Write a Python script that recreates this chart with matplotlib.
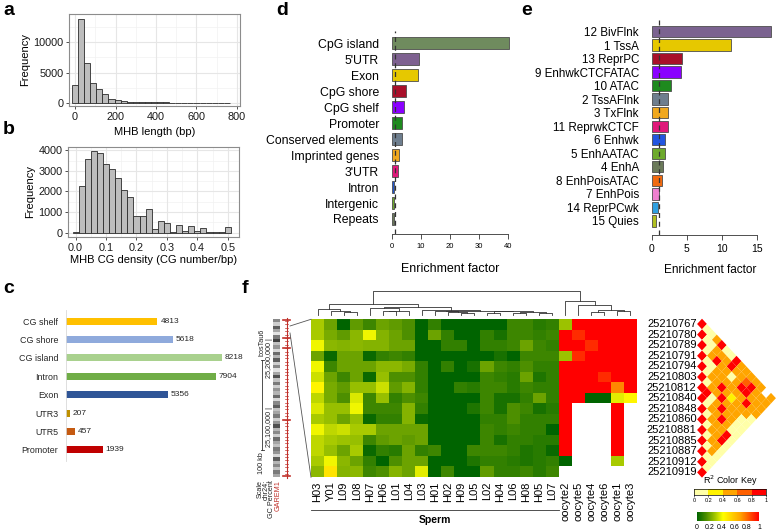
import numpy as np
import matplotlib
matplotlib.use('Agg')
import matplotlib.pyplot as plt
from matplotlib.colors import LinearSegmentedColormap, ListedColormap
from matplotlib.patches import Polygon

plt.rcParams['font.family'] = ['Liberation Sans', 'DejaVu Sans']

# ---------------- data ----------------
# a: MHB length histogram (binwidth 30)
len_bins = [0, 30, 60, 90, 120, 150, 180, 210, 240, 270, 300, 330, 360, 390, 420,
            450, 480, 510, 540, 570, 600, 630, 660, 690, 720, 750]
len_counts = [2890, 13900, 6650, 3330, 2220, 1500, 670, 390, 280, 190, 130, 100, 80, 60,
              45, 35, 28, 22, 18, 14, 11, 9, 7, 5, 4, 3]
# b: CG density histogram (binwidth 0.02)
dens_bins = [0.00, 0.02, 0.04, 0.06, 0.08, 0.10, 0.12, 0.14, 0.16, 0.18, 0.20, 0.22, 0.24,
             0.26, 0.28, 0.30, 0.32, 0.34, 0.36, 0.38, 0.40, 0.42, 0.44, 0.46, 0.48, 0.50]
dens_counts = [30, 2270, 3600, 3950, 3890, 3350, 3090, 2660, 2060, 1730, 810, 810, 1170,
               160, 550, 470, 20, 370, 80, 320, 60, 230, 10, 10, 10, 290]
# c: counts per genomic feature
c_cats = ['CG shelf', 'CG shore', 'CG island', 'Intron', 'Exon', 'UTR3', 'UTR5', 'Promoter']
c_vals = [4813, 5618, 8218, 7904, 5356, 207, 457, 1939]
c_colors = ['#FFC000', '#8FAADC', '#A9D18E', '#70AD47', '#2F5597', '#BF9000', '#C55A11', '#C00000']
# d: enrichment in genomic features
d_cats = ['CpG island', "5'UTR", 'Exon', 'CpG shore', 'CpG shelf', 'Promoter',
          'Conserved elements', 'Imprinted genes', "3'UTR", 'Intron', 'Intergenic', 'Repeats']
d_vals = [40.3, 9.3, 9.2, 4.9, 4.25, 3.6, 3.5, 2.4, 2.1, 0.9, 0.9, 0.8]
d_colors = ['#6F8B5E', '#7E6190', '#E6C800', '#A8102A', '#8A00FF', '#1E8A1E', '#6E7E8E',
            '#F0A81E', '#E0187A', '#1F55D0', '#6DAA2C', '#6B7A5A']
# e: enrichment in chromatin states
e_cats = ['12 BivFlnk', '1 TssA', '13 ReprPC', '9 EnhwkCTCFATAC', '10 ATAC', '2 TssAFlnk',
          '3 TxFlnk', '11 ReprwkCTCF', '6 Enhwk', '5 EnhAATAC', '4 EnhA', '8 EnhPoisATAC',
          '7 EnhPois', '14 ReprPCwk', '15 Quies']
e_vals = [16.9, 11.3, 4.35, 4.1, 2.75, 2.37, 2.37, 2.27, 1.94, 1.94, 1.56, 1.42, 1.09, 0.9, 0.57]
e_colors = ['#7B6390', '#E6C800', '#A8102A', '#8A00FF', '#1E8A1E', '#6E7E8E', '#F0A81E',
            '#E0187A', '#2255E0', '#6DAA2C', '#6B7A5A', '#F06A10', '#F080D0', '#30A0E0', '#B0C020']
# f: methylation heatmap (15 CpG rows per sample)
samples = ['H03', 'Y01', 'L09', 'L08', 'H07', 'H06', 'L01', 'L04', 'L03', 'H01', 'H02', 'H09',
           'L05', 'L02', 'H04', 'L06', 'H08', 'H05', 'L07',
           'oocyte2', 'oocyte5', 'oocyte4', 'oocyte6', 'oocyte1', 'oocyte3']
nan = float('nan')
meth_by_sample = [
    [0.30, 0.30, 0.40, 0.20, 0.40, 0.35, 0.45, 0.33, 0.37, 0.30, 0.40, 0.33, 0.33, 0.30, 0.25],
    [0.20, 0.22, 0.25, 0.02, 0.12, 0.20, 0.22, 0.22, 0.27, 0.27, 0.33, 0.30, 0.27, 0.40, 0.50],
    [0.00, 0.18, 0.24, 0.20, 0.20, 0.12, 0.18, 0.15, 0.27, 0.20, 0.35, 0.28, 0.20, 0.25, 0.24],
    [0.18, 0.25, 0.25, 0.20, 0.20, 0.20, 0.27, 0.37, 0.40, 0.27, 0.30, 0.27, 0.30, 0.20, 0.25],
    [0.12, 0.40, 0.24, 0.02, 0.20, 0.02, 0.27, 0.12, 0.12, 0.02, 0.30, 0.12, 0.02, 0.10, 0.12],
    [0.20, 0.24, 0.24, 0.10, 0.25, 0.27, 0.35, 0.27, 0.12, 0.10, 0.20, 0.18, 0.10, 0.00, 0.15],
    [0.18, 0.20, 0.20, 0.12, 0.25, 0.15, 0.18, 0.10, 0.12, 0.10, 0.20, 0.20, 0.08, 0.15, 0.24],
    [0.15, 0.15, 0.20, 0.10, 0.22, 0.15, 0.24, 0.15, 0.24, 0.24, 0.20, 0.18, 0.20, 0.20, 0.20],
    [0.00, 0.00, 0.00, 0.00, 0.10, 0.10, 0.10, 0.12, 0.10, 0.02, 0.20, 0.20, 0.10, 0.20, 0.38],
    [0.10, 0.20, 0.00, 0.00, 0.00, 0.00, 0.00, 0.00, 0.00, 0.00, 0.00, 0.00, 0.12, 0.00, 0.00],
    [0.00, 0.10, 0.10, 0.00, 0.10, 0.00, 0.00, 0.00, 0.00, 0.00, 0.00, 0.00, 0.00, 0.00, 0.12],
    [0.00, 0.00, 0.10, 0.00, 0.00, 0.00, 0.10, 0.00, 0.00, 0.00, 0.00, 0.00, 0.00, 0.00, 0.00],
    [0.00, 0.00, 0.00, 0.00, 0.05, 0.00, 0.08, 0.00, 0.06, 0.00, 0.00, 0.00, 0.12, 0.06, 0.00],
    [0.00, 0.10, 0.10, 0.00, 0.20, 0.12, 0.12, 0.12, 0.12, 0.10, 0.12, 0.12, 0.12, 0.10, 0.18],
    [0.00, 0.05, 0.10, 0.05, 0.12, 0.10, 0.12, 0.05, 0.05, 0.10, 0.10, 0.05, 0.12, 0.10, 0.10],
    [0.12, 0.12, 0.12, 0.00, 0.10, 0.08, 0.08, 0.05, 0.15, 0.15, 0.12, 0.10, 0.10, 0.08, 0.10],
    [0.12, 0.12, 0.20, 0.12, 0.15, 0.20, 0.12, 0.10, 0.12, 0.10, 0.10, 0.10, 0.06, 0.06, 0.12],
    [0.08, 0.10, 0.12, 0.12, 0.10, 0.06, 0.10, 0.20, 0.05, 0.10, 0.10, 0.08, 0.08, 0.08, 0.08],
    [0.10, 0.12, 0.10, 0.12, 0.10, 0.10, 0.10, 0.10, 0.08, 0.10, 0.00, 0.08, 0.02, 0.10, 0.12],
    [0.28, 1.00, 1.00, 0.28, 1.00, 1.00, 1.00, 1.00, 1.00, 1.00, 1.00, 1.00, 1.00, 0.00, nan],
    [1.00, 0.92, 1.00, 0.92, 1.00, 1.00, 1.00, 1.00, nan, nan, nan, nan, nan, nan, nan],
    [1.00, 1.00, 0.92, 1.00, 1.00, 1.00, 1.00, 0.00, nan, nan, nan, nan, nan, nan, nan],
    [1.00, 1.00, 1.00, 1.00, 1.00, 0.92, 1.00, 0.00, nan, nan, nan, nan, nan, nan, nan],
    [1.00, 1.00, 1.00, 1.00, 1.00, 1.00, 0.75, 0.38, 1.00, 1.00, 1.00, 1.00, 1.00, 0.30, nan],
    [1.00, 1.00, 1.00, 1.00, 1.00, 1.00, 1.00, 0.45, nan, nan, nan, nan, nan, nan, nan],
]
# dendrogram over samples: (left, right, height), leaves are sample indices
dend_tree = (
    ((0, (1, (2, 3, 3.0), 4.5), 6.3),
     ((4, ((5, 6, 4.0), 7, 5.0), 7.5),
      (8, ((9, (10, (11, 12, 2.0), 3.0), 4.0),
           ((13, 14, 2.5), ((15, 16, 2.0), (17, 18, 2.5), 3.5), 4.5), 5.0), 6.0), 9.0), 12.0),
    (19, (20, ((21, 22, 3.0), (23, 24, 4.0), 6.0), 11.0), 16.0),
    27.0)
# LD (r^2) between SNPs: row i holds r^2 with SNPs i+1 .. last (None = not shown)
snps = ['25210767', '25210780', '25210789', '25210791', '25210794', '25210803', '25210812',
        '25210840', '25210848', '25210860', '25210881', '25210885', '25210887', '25210912',
        '25210919']
ld_r2 = [
    [0.1, 0.1, 0.5, 0.9, 0.1, 0.1, 0.9, 0.5, 0.5, 0.5, 0.5, 0.5, None, 0.5],
    [0.1, 0.1, 0.5, 0.5, 0.5, 0.9, 0.5, 0.5, 0.7, 0.9, 0.5, 0.5, 0.5],
    [0.1, 0.5, 0.9, 0.5, 0.5, 0.1, 0.5, 0.9, 0.9, 0.5, 0.5, 0.5],
    [0.1, 0.1, 0.5, 0.5, 0.5, 0.5, 0.5, 0.5, 0.9, 0.5, 0.5],
    [0.1, 0.5, 0.5, 0.9, 0.5, 0.3, 0.5, 0.5, 0.5, 0.1],
    [0.1, 0.5, 0.5, 0.9, 0.5, 0.5, 0.5, 0.1, 0.1],
    [0.9, 0.1, 0.5, 0.9, 0.5, 0.5, 0.1, 0.1],
    [0.1, 0.5, 0.5, 0.9, 0.5, 0.1, 0.1],
    [0.1, 0.5, 0.5, 0.5, 0.9, 0.1],
    [0.1, 0.5, 0.5, 0.9, 0.1],
    [0.1, 0.5, 0.5, 0.1],
    [0.1, 0.5, 0.1],
    [0.1, 0.1],
    [0.1],
    [],
]
ld_colors = ['#FFFFA8', '#FFF200', '#FFA500', '#FF6000', '#FF0000']
gc_levels = [0.55, 0.30, 0.70, 0.45, 0.20, 0.60, 0.80, 0.35, 0.50, 0.25, 0.65, 0.40, 0.70,
             0.30, 0.55, 0.20, 0.45, 0.75, 0.35, 0.60, 0.30, 0.50, 0.40, 0.65, 0.25, 0.55,
             0.70, 0.35, 0.45, 0.60, 0.30, 0.50, 0.75, 0.40, 0.55, 0.30, 0.65, 0.45, 0.35,
             0.60, 0.50, 0.25, 0.70, 0.40, 0.55, 0.35, 0.60, 0.45]

# ---------------- layout helpers ----------------
W, H = 778, 531
fig = plt.figure(figsize=(W / 100, H / 100), dpi=100)


def add_ax(l, t, r, b, **kw):
    return fig.add_axes([l / W, 1 - b / H, (r - l) / W, (b - t) / H], **kw)


def ftext(x, y, s, **kw):
    fig.text(x / W, 1 - y / H, s, **kw)


def gg_hist(ax, bins, counts, width, xlim, ylim, xticks, yticks, xminor, yminor):
    ax.set_facecolor('white')
    for v in xminor:
        ax.axvline(v, color='#F2F2F2', lw=0.5, zorder=0)
    for v in yminor:
        ax.axhline(v, color='#F2F2F2', lw=0.5, zorder=0)
    for v in xticks:
        ax.axvline(v, color='#E6E6E6', lw=0.8, zorder=0)
    for v in yticks:
        ax.axhline(v, color='#E6E6E6', lw=0.8, zorder=0)
    ax.bar(bins, counts, width=width, color='#BDBDBD', edgecolor='#2B2B2B', linewidth=0.6, zorder=2)
    ax.set_xlim(*xlim)
    ax.set_ylim(*ylim)
    ax.set_xticks(xticks)
    ax.set_yticks(yticks)
    for s in ax.spines.values():
        s.set_color('#8C8C8C')
        s.set_linewidth(0.8)
    ax.tick_params(length=2.5, width=0.6, color='#333333', labelsize=7.8, pad=1.5,
                   labelcolor='#1A1A1A')


# ---------------- panel a ----------------
axa = add_ax(69, 14, 240, 106)
gg_hist(axa, len_bins, len_counts, 30, (-30, 815), (-550, 14700),
        [0, 200, 400, 600, 800], [0, 5000, 10000], [100, 300, 500, 700], [2500, 7500, 12500])
axa.set_ylabel('Frequency', fontsize=8, labelpad=2)
axa.set_xlabel('MHB length (bp)', fontsize=8, labelpad=4)

# ---------------- panel b ----------------
axb = add_ax(68, 147, 239, 237)
gg_hist(axb, dens_bins, dens_counts, 0.02, (-0.025, 0.537), (-214, 4165),
        [0.0, 0.1, 0.2, 0.3, 0.4, 0.5], [0, 1000, 2000, 3000, 4000],
        [0.05, 0.15, 0.25, 0.35, 0.45], [500, 1500, 2500, 3500])
axb.set_xticklabels(['0.0', '0.1', '0.2', '0.3', '0.4', '0.5'])
axb.set_ylabel('Frequency', fontsize=8, labelpad=2)
axb.set_xlabel('MHB CG density (CG number/bp)', fontsize=8, labelpad=2)

# ---------------- panel c ----------------
axc = add_ax(66, 310, 240, 461)
yc = np.arange(len(c_cats))
axc.barh(yc, c_vals, height=0.38, color=c_colors)
axc.set_ylim(len(c_cats) - 0.4, -0.6)
axc.set_xlim(0, 9170)
for yi, v in zip(yc, c_vals):
    axc.text(v + 160, yi, str(v), va='center', ha='left', fontsize=6, color='#262626')
axc.set_yticks(yc, c_cats, fontsize=6.4)
axc.set_xticks([])
axc.tick_params(axis='y', length=0, pad=5.5, labelcolor='#262626')
for k in ['top', 'right', 'bottom']:
    axc.spines[k].set_visible(False)
axc.spines['left'].set_color('#D9D9D9')
axc.spines['left'].set_linewidth(0.6)


# ---------------- panels d, e ----------------
def enrich(ax, cats, vals, colors, xlim, ylim, bounds, xticks, ylab_fs, xtick_fs, h):
    y = np.arange(len(cats))
    ax.barh(y, vals, height=h, color=colors, edgecolor='#4D4D4D', linewidth=0.6, zorder=2)
    ax.axvline(1, color='#333333', lw=0.9, ls=(0, (4, 3)), zorder=3)
    ax.set_xlim(*xlim)
    ax.set_ylim(*ylim)
    ax.set_yticks(y, cats, fontsize=ylab_fs)
    ax.set_xticks(xticks)
    ax.tick_params(axis='y', length=0, pad=6.5)
    ax.tick_params(axis='x', length=3.6, width=0.6, labelsize=xtick_fs, pad=3, color='#333333')
    for k in ['top', 'right', 'left']:
        ax.spines[k].set_visible(False)
    ax.spines['bottom'].set_bounds(*bounds)
    ax.spines['bottom'].set_color('#333333')
    ax.spines['bottom'].set_linewidth(0.6)


axd = add_ax(388, 31, 512, 234)
enrich(axd, d_cats, d_vals, d_colors, (-1.28, 41.5), (11.94, -0.77), (0, 40),
       [0, 10, 20, 30, 40], 8.8, 5.5, 0.75)
axd.set_xlabel('Enrichment factor', fontsize=9, labelpad=9)

axe = add_ax(648, 17, 772, 235)
enrich(axe, e_cats, e_vals, e_colors, (-0.53, 17.09), (15.04, -1.07), (0, 15),
       [0, 5, 10, 15], 8.4, 7.5, 0.84)
axe.set_xlabel('Enrichment factor', fontsize=8.5, labelpad=7)

# ---------------- panel f: heatmap ----------------
meth_cmap = LinearSegmentedColormap.from_list(
    'meth', [(0, '#006400'), (0.15, '#4E9000'), (0.3, '#AACB00'), (0.42, '#FFFF00'),
             (0.7, '#FFA500'), (1, '#FF0000')])
meth_cmap.set_bad('white')
axh = add_ax(311, 319.3, 637, 477.3)
M = np.ma.masked_invalid(np.array(meth_by_sample, dtype=float).T)
n_rows, n_cols = M.shape
axh.imshow(M, cmap=meth_cmap, vmin=0, vmax=1, aspect='auto', interpolation='nearest')
axh.set_xticks(range(n_cols), samples, rotation=90, fontsize=8)
axh.set_yticks([])
axh.tick_params(length=0, pad=3)
for s in axh.spines.values():
    s.set_visible(False)
n_sperm = 19
axh.plot([-0.5, n_sperm - 0.5], [17.6, 17.6], color='#333333', lw=0.6, clip_on=False)
axh.text((n_sperm - 1) / 2, 18.55, 'Sperm', ha='center', va='center', fontsize=7.5,
         fontweight='bold')
axh.set_xlim(-0.5, n_cols - 0.5)
axh.set_ylim(n_rows - 0.5, -0.5)

# dendrogram
axdn = add_ax(311, 289, 637, 317)
axdn.axis('off')


def draw_dend(node):
    if isinstance(node, int):
        return float(node), 0.0
    l, r, h = node
    xl, hl = draw_dend(l)
    xr, hr = draw_dend(r)
    axdn.plot([xl, xl, xr, xr], [hl, h, h, hr], color='#333333', lw=0.6)
    return (xl + xr) / 2, h


draw_dend(dend_tree)
axdn.set_xlim(-0.5, n_cols - 0.5)
axdn.set_ylim(-2.25, 29.25)

# genome browser track (left of heatmap)
axgc = add_ax(273, 319, 280, 477)
axgc.imshow(np.array(gc_levels)[:, None], cmap='Greys', vmin=0, vmax=1, aspect='auto',
            interpolation='nearest')
axgc.axis('off')

ov = add_ax(0, 0, W, H)
ov.axis('off')
ov.patch.set_alpha(0)
ov.plot([287, 287], [318, 478], color='#C0302A', lw=0.8)
for yy in np.arange(321, 477, 3.4):
    ov.plot([285.5, 288.5], [yy, yy], color='#C0302A', lw=0.5)
for yy in [320, 338, 348, 420, 476]:
    ov.plot([283.5, 290.5], [yy, yy], color='#C0302A', lw=1.2)
ov.plot([290, 311], [326, 319.3], color='#555555', lw=0.6)
ov.plot([290, 311], [333, 477.3], color='#555555', lw=0.6)
ov.plot([262.5, 262.5], [360, 450], color='#333333', lw=0.6)
ov.plot([261, 264], [360, 360], color='#333333', lw=0.6)
ov.plot([261, 264], [450, 450], color='#333333', lw=0.6)
for (xx, yy, s, c) in [(262, 329, 'bosTau6', '#222222'), (262, 452, '100 kb', '#222222'),
                       (269.5, 338, '25,200,000 |', '#222222'),
                       (269.5, 407, '25,100,000 |', '#222222'),
                       (260, 480, 'Scale', '#222222'), (266, 480, 'chr24:', '#222222'),
                       (272, 480, 'GC Percent', '#222222'), (278.5, 480, 'GAREM1', '#C0302A')]:
    ov.text(xx, yy, s, rotation=90, ha='center', va='top', fontsize=5.2, color=c)
ov.set_xlim(0, W)
ov.set_ylim(H, 0)

# LD triangle
axld = add_ax(640, 318, 778, 480)
axld.axis('off')
n = len(snps)
for i in range(n):
    for j in range(i, n):
        v = 1.0 if j == i else ld_r2[i][j - i - 1]
        if v is None:
            continue
        col = ld_colors[min(int(v / 0.2), 4)]
        x, y = j - i, (i + j) / 2
        axld.add_patch(Polygon([(x - 1, y), (x, y - 0.5), (x + 1, y), (x, y + 0.5)],
                               closed=True, facecolor=col, edgecolor='none'))
for i, s in enumerate(snps):
    axld.text(-1.1, i, s, ha='right', va='center', fontsize=8)
axld.set_xlim(-12.58, 15.42)
axld.set_ylim(14.72, -0.566)

# color keys
axk1 = add_ax(694, 489, 766, 495)
axk1.imshow(np.arange(5)[None, :], cmap=ListedColormap(ld_colors), aspect='auto',
            extent=(0, 1, 0, 1))
axk1.set_yticks([])
axk1.set_xticks([0, 0.2, 0.4, 0.6, 0.8, 1], ['0', '0.2', '0.4', '0.6', '0.8', '1'])
axk1.tick_params(length=1.5, width=0.4, labelsize=4, pad=0.8)
for s in axk1.spines.values():
    s.set_linewidth(0.5)
ftext(730, 488, 'R$^2$ Color Key', ha='center', va='bottom', fontsize=6.5)

axk2 = add_ax(697, 512, 759, 521)
axk2.imshow(np.linspace(0, 1, 256)[None, :], cmap=meth_cmap, aspect='auto',
            extent=(0, 1, 0, 1))
axk2.set_yticks([])
axk2.set_xticks([0, 0.2, 0.4, 0.6, 0.8, 1], ['0', '0.2', '0.4', '0.6', '0.8', '1'])
axk2.tick_params(length=0, labelsize=5, pad=2)
for s in axk2.spines.values():
    s.set_visible(False)

# panel letters
for (xx, yy, s) in [(3, 2, 'a'), (3, 121, 'b'), (3, 280, 'c'), (276, 2, 'd'),
                    (521, 2, 'e'), (242, 280, 'f')]:
    ftext(xx, yy, s, fontsize=14, fontweight='bold', va='top', ha='left')

fig.savefig('out.png', dpi=100)
